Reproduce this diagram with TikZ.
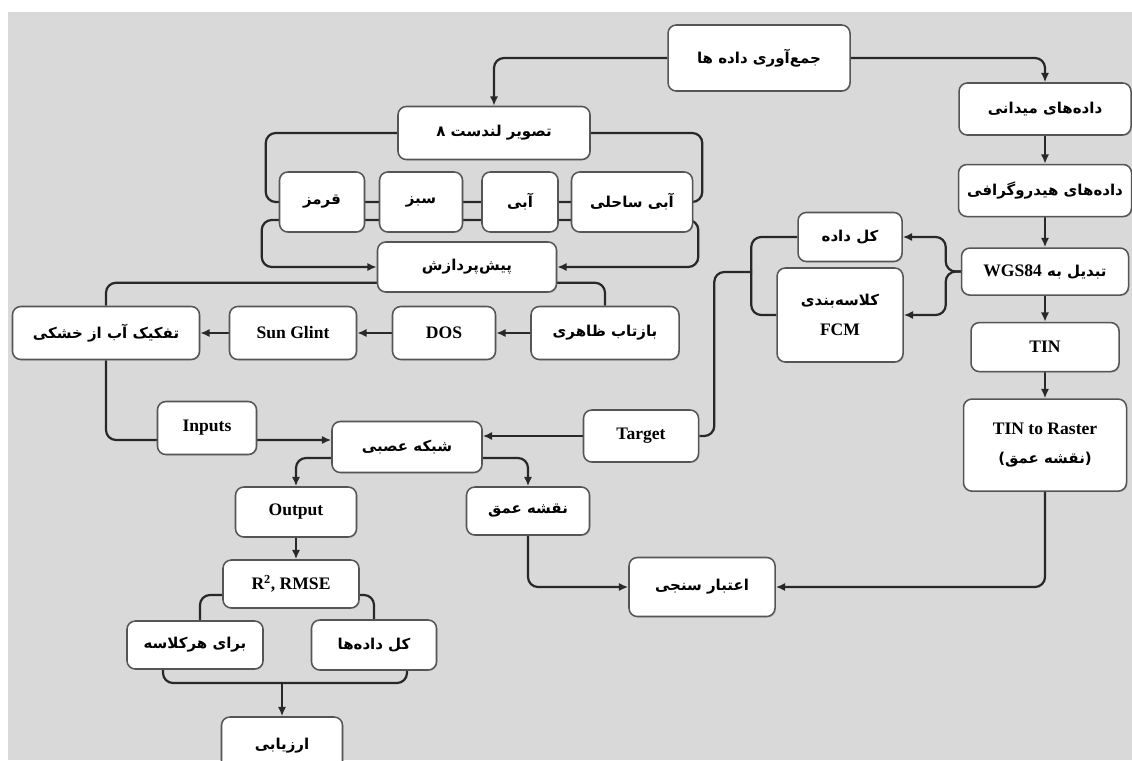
\documentclass[tikz,border=0pt]{standalone}
\usepackage{fontspec}
\setmainfont{Liberation Serif}
\newfontfamily\farsi[Script=Arabic]{DejaVu Sans}
\TeXXeTstate=1
\usepackage{tikz}
\usetikzlibrary{arrows,arrows.meta,shapes,positioning,shadows,calc}
\definecolor{bggray}{RGB}{217,217,217}
\definecolor{edgegray}{RGB}{85,85,85}
\definecolor{linegray}{RGB}{40,40,40}
\newcommand{\fatxt}[1]{{\farsi\bfseries\fontsize{12.8}{15}\selectfont\beginR #1\endR}}
\newcommand{\entxt}[1]{{\rmfamily\bfseries\fontsize{15}{17}\selectfont #1}}
\tikzstyle{block} = [rectangle, rounded corners=0.25cm, draw=edgegray, fill=white, line width=1.3pt, align=center, inner sep=2pt, drop shadow={shadow xshift=0.8pt, shadow yshift=-0.8pt, opacity=0.35}]
\tikzstyle{link} = [line width=1.9pt, color=linegray, rounded corners=0.3cm]
\tikzstyle{arrow} = [link, -{Latex[length=8pt,width=7pt]}]
\tikzset{wh/.style 2 args={minimum width=#1*0.03cm, minimum height=#2*0.03cm}}
\pgfdeclarelayer{back}
\pgfdeclarelayer{wires}
\pgfsetlayers{back,wires,main}
\begin{document}
\begin{tikzpicture}[x=0.03cm, y=-0.03cm]
\useasboundingbox (0,0) rectangle (1132,760);
\begin{pgfonlayer}{back}
\fill[white] (0,0) rectangle (1132,760);
\fill[bggray] (8,12) rectangle (1132,760);
\end{pgfonlayer}

% Landsat branch
\node (collect) [block, wh={182}{66}] at (759,58) {\fatxt{جمع‌آوری داده ها}};
\node (landsat) [block, wh={192}{53}] at (494,133) {\fatxt{تصویر لندست ۸}};
\node (red) [block, wh={85}{60}] at (322,202) {\fatxt{قرمز}};
\node (green) [block, wh={83}{60}] at (421,202) {\fatxt{سبز}};
\node (blue) [block, wh={76}{60}] at (520,202) {\fatxt{آبی}};
\node (coastal) [block, wh={121}{60}] at (632,202) {\fatxt{آبی ساحلی}};
\node (preproc) [block, wh={179}{50}] at (467,267) {\fatxt{پیش‌پردازش}};
\node (reflect) [block, wh={148}{53}] at (605,333) {\fatxt{بازتاب ظاهری}};
\node (dos) [block, wh={103}{53}] at (444,333) {\entxt{DOS}};
\node (glint) [block, wh={127}{53}] at (293,333) {\entxt{Sun Glint}};
\node (separate) [block, wh={187}{53}] at (106,333) {\fatxt{تفکیک آب از خشکی}};

% Network and evaluation
\node (inputs) [block, wh={99}{53}] at (207,428) {\entxt{Inputs}};
\node (nn) [block, wh={150}{51}] at (407,447) {\fatxt{شبکه عصبی}};
\node (target) [block, wh={115}{52}] at (641,436) {\entxt{Target}};
\node (output) [block, wh={121}{50}] at (296,512) {\entxt{Output}};
\node (depth) [block, wh={123}{48}] at (528,511) {\fatxt{نقشه عمق}};
\node (metrics) [block, wh={136}{48}] at (291,584) {\entxt{R\textsuperscript{2}, RMSE}};
\node (perclass) [block, wh={136}{48}] at (195,645) {\fatxt{برای هرکلاسه}};
\node (alldata) [block, wh={125}{50}] at (374,645) {\fatxt{کل داده‌ها}};
\node (evaluate) [block, wh={121}{58}] at (282,746) {\fatxt{ارزیابی}};
\node (validate) [block, wh={146}{59}] at (702,587) {\fatxt{اعتبار سنجی}};

% Field data branch
\node (field) [block, wh={172}{52}] at (1045,109) {\fatxt{داده‌های میدانی}};
\node (hydro) [block, wh={173}{52}, below=0.84cm of field] {\fatxt{داده‌های هیدروگرافی}};
\node (wgs) [block, wh={167}{47}, below=0.9cm of hydro] {\fatxt{تبدیل به \beginL\entxt{WGS84}\endL}};
\node (tin) [block, wh={148}{49}, below=0.78cm of wgs] {\entxt{TIN}};
\node (raster) [block, wh={163}{92}, below=0.78cm of tin] {\entxt{TIN to Raster}\\[0.45cm]\fatxt{(نقشه عمق)}};
\node (whole) [block, wh={104}{49}] at (850,237) {\fatxt{کل داده}};
\node (fcm) [block, wh={126}{94}] at (840,315) {\fatxt{کلاسه‌بندی}\\[0.45cm]\entxt{FCM}};

\begin{pgfonlayer}{wires}
\draw[arrow] (collect.west) -| (landsat.north);
\draw[arrow] (collect.east) -| (field.north);
% bands
\draw[link] (landsat.west) -| ($(red.west)+(-13,0)$) -- ($(coastal.east)+(9,0)$) |- (landsat.east);
\coordinate (bandbus) at (470,220);
\draw[arrow] (bandbus) -| ($(preproc.west)+(-115,0)$) -- (preproc.west);
\draw[arrow] (bandbus) -| ($(preproc.east)+(141,0)$) -- (preproc.east);
\draw[link] (separate.north) |- ($(preproc.south)+(0,-10)$) -| (reflect.north);
% correction chain
\draw[arrow] (reflect.west) -- (dos.east);
\draw[arrow] (dos.west) -- (glint.east);
\draw[arrow] (glint.west) -- (separate.east);
% network
\draw[arrow] (separate.south) |- ($(nn.west)+(0,-7)$);
\draw[arrow] (target.west) -- (target.west -| nn.east);
\draw[arrow] ($(nn.west)+(0,11)$) -| (output.north);
\draw[arrow] ($(nn.east)+(0,11)$) -| (depth.north);
\draw[arrow] (output.south) -- (output.south |- metrics.north);
\draw[link] ($(metrics.west)+(0,11)$) -| ($(perclass.north)+(5,0)$);
\draw[link] ($(metrics.east)+(0,11)$) -| (alldata.north);
\coordinate (evalbus) at (282,683);
\draw[link] ($(perclass.south)+(-32,0)$) |- (evalbus) -| ($(alldata.south)+(33,0)$);
\draw[arrow] (evalbus) -- (evaluate.north);
\draw[arrow] (depth.south) |- (validate.west);
\draw[arrow] (raster.south) |- (validate.east);
% field data
\draw[arrow] (field) -- (hydro);
\draw[arrow] (hydro) -- (wgs);
\draw[arrow] (wgs) -- (tin);
\draw[arrow] (tin) -- (raster);
\draw[arrow] (wgs.west) -- ++(-15,0) |- (whole.east);
\draw[arrow] (wgs.west) -- ++(-15,0) |- (fcm.east);
\draw[link] (whole.west) -- ++(-46,0) |- (fcm.west);
\coordinate (fcmbus) at (752,272);
\draw[link] (target.east) -- ++(15,0) |- (fcmbus);
\end{pgfonlayer}
\end{tikzpicture}
\end{document}
